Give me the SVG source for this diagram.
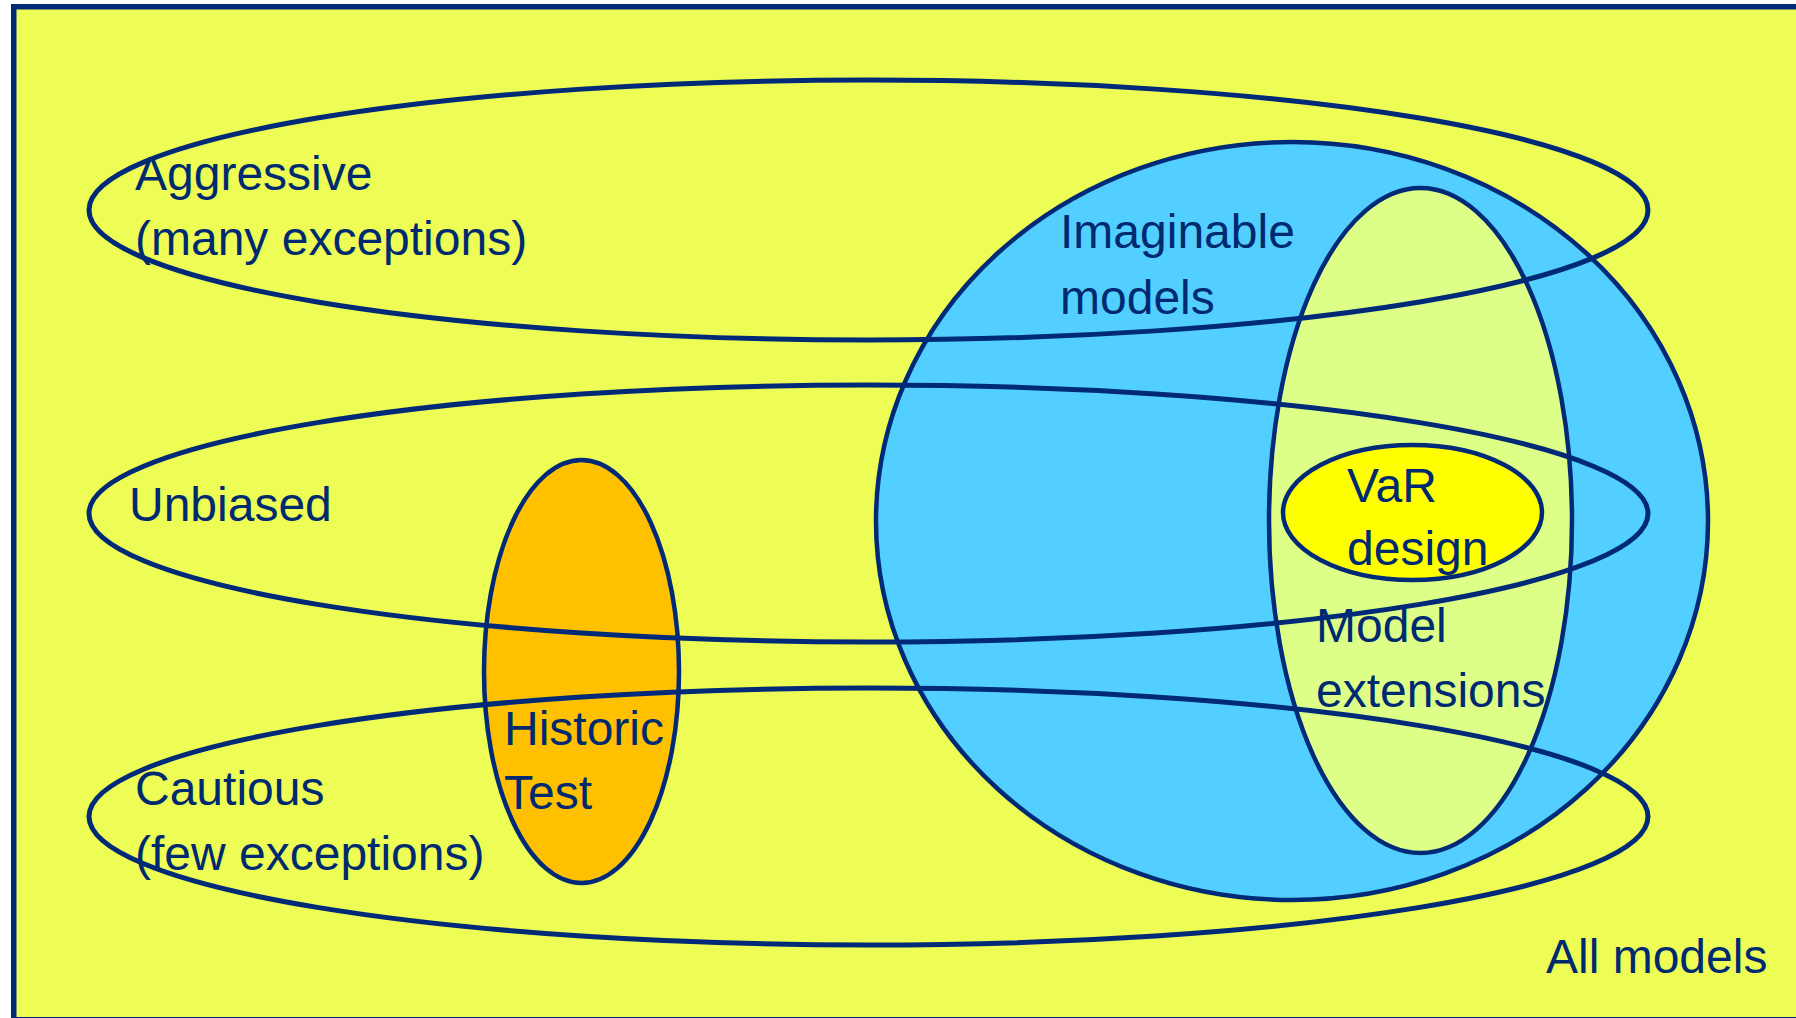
<svg xmlns="http://www.w3.org/2000/svg" width="1796" height="1018" viewBox="0 0 1796 1018">
<style>
.ln{stroke:#002A78;stroke-width:4.5;}
.hz{fill:none;stroke:#002A78;stroke-width:5;}
text{font-family:"Liberation Sans",Arial,sans-serif;font-size:48px;fill:#002A70;}
</style>
<rect width="1796" height="1018" fill="#FFFFFF"/>
<g id="all-models">
<rect x="13.75" y="6.75" width="1800" height="1013" fill="#EDFD55" stroke="#002A78" stroke-width="5.5"/>
<text x="1546" y="973">All models</text>
</g>
<g id="imaginable-models">
<ellipse cx="1292" cy="521" rx="416" ry="379" fill="#53CFFF" class="ln"/>
<text x="1060" y="248">Imaginable</text>
<text x="1060" y="314">models</text>
</g>
<g id="model-extensions">
<ellipse cx="1420.5" cy="520.5" rx="151.5" ry="332.5" fill="#DDFF88" class="ln"/>
<text x="1316" y="642">Model</text>
<text x="1316" y="707">extensions</text>
</g>
<g id="var-design">
<ellipse cx="1412.5" cy="512.5" rx="129.5" ry="67.5" fill="#FFFF00" class="ln"/>
<text x="1347" y="502">VaR</text>
<text x="1347" y="565">design</text>
</g>
<g id="historic-test">
<ellipse cx="581.5" cy="671.5" rx="97.5" ry="211.5" fill="#FFC000" class="ln"/>
<text x="504" y="745">Historic</text>
<text x="504" y="809">Test</text>
</g>
<g id="aggressive">
<ellipse cx="868.5" cy="210" rx="779.5" ry="130" class="hz"/>
<text x="135" y="190">Aggressive</text>
<text x="135" y="255">(many exceptions)</text>
</g>
<g id="unbiased">
<ellipse cx="868.5" cy="513.5" rx="779.5" ry="128.5" class="hz"/>
<text x="129" y="521">Unbiased</text>
</g>
<g id="cautious">
<ellipse cx="868.5" cy="816.5" rx="779.5" ry="128.5" class="hz"/>
<text x="135" y="805">Cautious</text>
<text x="135" y="870">(few exceptions)</text>
</g>
<g id="connectors"/>
</svg>
